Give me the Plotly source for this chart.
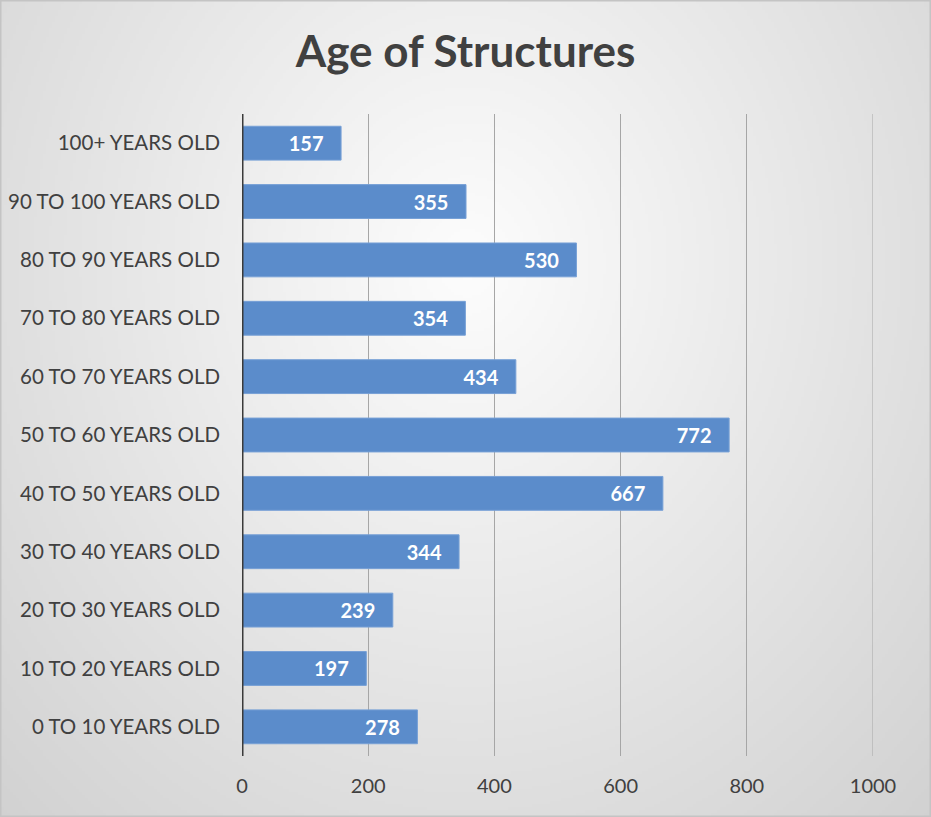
import base64, struct, zlib
import numpy as np
import plotly.graph_objects as go

categories = ["0 TO 10 YEARS OLD", "10 TO 20 YEARS OLD", "20 TO 30 YEARS OLD",
              "30 TO 40 YEARS OLD", "40 TO 50 YEARS OLD", "50 TO 60 YEARS OLD",
              "60 TO 70 YEARS OLD", "70 TO 80 YEARS OLD", "80 TO 90 YEARS OLD",
              "90 TO 100 YEARS OLD", "100+ YEARS OLD"]
values = [278, 197, 239, 344, 667, 772, 434, 354, 530, 355, 157]
x_ticks = [0, 200, 400, 600, 800, 1000]

W, H = 931, 817
L, R, T, B = 242, 58, 114, 61
PW, PH = W - L - R, H - T - B
FONT = "Lato"

# radial gradient background image
gw, gh = 311, 273
yy, xx = np.mgrid[0:gh, 0:gw]
cx, cy = gw * 0.5, gh * 0.32
d = np.sqrt(((xx - cx) / (gw * 0.60)) ** 2 + ((yy - cy) / (gh * 0.78)) ** 2)
val = 253 - np.clip(d, 0, 1.3) * 36
arr = np.clip(val, 0, 255).astype(np.uint8)

def make_png(a):
    h, w = a.shape
    raw = b"".join(b"\x00" + a[i].tobytes() for i in range(h))
    def chunk(t, data):
        c = struct.pack(">I", len(data)) + t + data
        return c + struct.pack(">I", zlib.crc32(t + data) & 0xffffffff)
    return (b"\x89PNG\r\n\x1a\n" + chunk(b"IHDR", struct.pack(">IIBBBBB", w, h, 8, 0, 0, 0, 0))
            + chunk(b"IDAT", zlib.compress(raw, 9)) + chunk(b"IEND", b""))

img_src = "data:image/png;base64," + base64.b64encode(make_png(arr)).decode()

fig = go.Figure(go.Bar(
    x=values, y=categories, orientation="h",
    marker=dict(color="#5b8ccb", line=dict(color="#77a0d6", width=1)),
    width=0.58,
    texttemplate="%{x}\u00a0\u00a0\u00a0", textposition="inside", insidetextanchor="end",
    textfont=dict(family=FONT, size=20, color="white", weight="bold"),
    cliponaxis=False, hoverinfo="skip",
))

fig.update_layout(
    width=W, height=H,
    margin=dict(l=L, r=R, t=T, b=B),
    paper_bgcolor="rgba(0,0,0,0)", plot_bgcolor="rgba(0,0,0,0)",
    title=dict(text="<b>Age of Structures</b>", x=0.5, xanchor="center", y=1 - 52 / H, yanchor="middle",
               font=dict(family=FONT, size=44, color="#404040")),
    showlegend=False,
    images=[dict(source=img_src, xref="paper", yref="paper",
                 x=-L / PW, y=1 + T / PH, sizex=W / PW, sizey=H / PH,
                 xanchor="left", yanchor="top", sizing="stretch", layer="below")],
    xaxis=dict(range=[0, 1000], tickvals=x_ticks, showgrid=True, gridcolor="#a6a6a6", gridwidth=1,
               zeroline=False, showline=False, ticks="", automargin=False,
               tickfont=dict(family=FONT, size=20, color="#404040"), ticklabelstandoff=16),
    yaxis=dict(showgrid=False, zeroline=False, showline=False, ticks="", automargin=False,
               tickfont=dict(family=FONT, size=20.5, color="#404040"), ticklabelstandoff=21),
    shapes=[
        dict(type="line", xref="x", yref="paper", x0=1000, x1=1000, y0=0, y1=1,
             line=dict(color="#a6a6a6", width=1), layer="below"),
        dict(type="line", xref="x", yref="paper", x0=0, x1=0, y0=0, y1=1,
             line=dict(color="#3a3a3a", width=3), layer="above"),
        dict(type="rect", xref="paper", yref="paper", x0=-L / PW, x1=1 + R / PW, y0=-B / PH, y1=1 + T / PH,
             line=dict(color="#c4c4c4", width=3), layer="above"),
    ],
)

fig.write_html("out.html", config={"displayModeBar": False},
               post_script="document.body.style.margin='0';")
